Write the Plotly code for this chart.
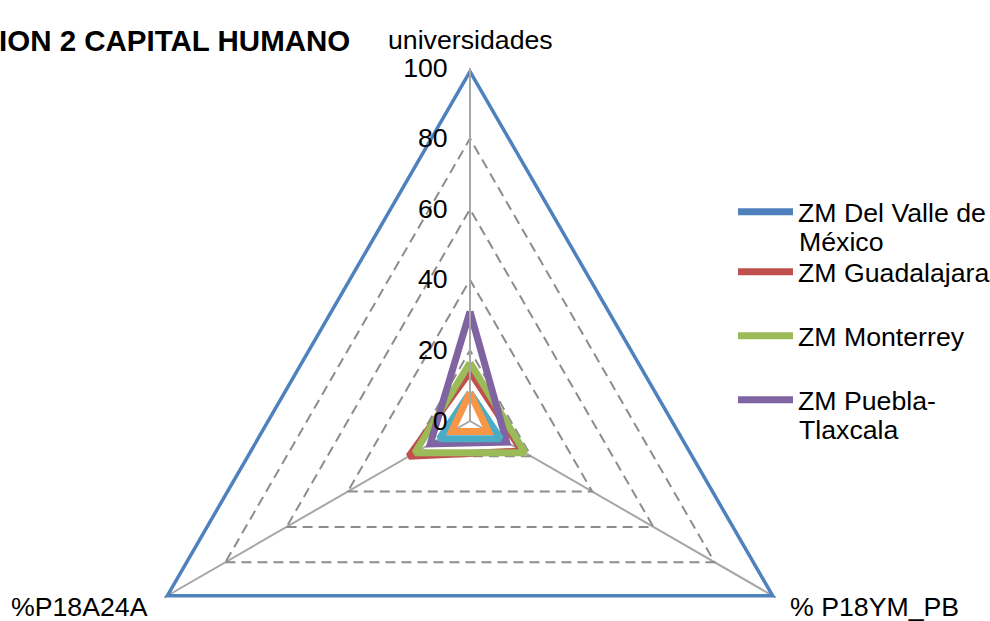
import plotly.graph_objects as go

# ---------------- data ----------------
categories = ["universidades", "% P18YM_PB", "%P18A24A"]   # top, bottom-right, bottom-left
series_names = ["ZM Del Valle de México", "ZM Guadalajara", "ZM Monterrey",
                "ZM Puebla-Tlaxcala", "Serie 5", "Serie 6"]
legend_first_lines = ["ZM Del Valle de", "ZM Guadalajara", "ZM Monterrey", "ZM Puebla-", "", ""]
legend_second_lines = ["México", "", "", "Tlaxcala", "", ""]
del_valle = [100, 100, 100]
guadalajara = [14, 17, 20]
monterrey = [16.5, 18, 18]
puebla = [31, 12, 13]
serie5 = [8, 10, 10]
serie6 = [8, 6, 6]
radial_ticks = [0, 20, 40, 60, 80, 100]
title_text = "ION 2 CAPITAL HUMANO"

all_values = [del_valle, guadalajara, monterrey, puebla, serie5, serie6]
colors = ["#4F81BD", "#C0504D", "#9BBB59", "#8064A2", "#4BACC6", "#F79646"]

# ---------------- layout helpers ----------------
W, H = 990, 780
FONT = "Liberation Sans, Arial, sans-serif"
FS = 26.7

def py(y_px):
    return (H - y_px) / H

def px(x_px):
    return x_px / W

cx, cy, R = 470, 421, 353

fig = go.Figure()
legend_ids = ["legend", "legend2", "legend3", "legend4", None, None]
for name, lab, vals, col, lid in zip(series_names, legend_first_lines, all_values, colors, legend_ids):
    kw = dict(legend=lid, showlegend=True) if lid else dict(showlegend=False)
    fig.add_trace(go.Scatterpolar(
        r=vals + vals[:1],
        theta=categories + categories[:1],
        mode="lines",
        name=lab if lab else name,
        line=dict(color=col, width=7),
        hovertext=name,
        **kw,
    ))

legend_line_y = [212, 272, 336, 400]
legend_common = dict(
    x=px(733), xanchor="left", yanchor="top",
    font=dict(family=FONT, size=FS, color="#000000"),
    bgcolor="rgba(0,0,0,0)", borderwidth=0, valign="top", itemwidth=55,
)
legends = {}
for lid, ly in zip(["legend", "legend2", "legend3", "legend4"], legend_line_y):
    legends[lid] = dict(legend_common, y=py(ly - 24))

annotations = [
    dict(text=categories[0], x=px(cx), y=py(40), xref="paper", yref="paper",
         xanchor="center", yanchor="middle", showarrow=False,
         font=dict(family=FONT, size=FS, color="#000000")),
    dict(text=categories[2], x=px(9), y=py(607), xref="paper", yref="paper",
         xanchor="left", yanchor="middle", showarrow=False,
         font=dict(family=FONT, size=FS, color="#000000")),
    dict(text=categories[1], x=px(788), y=py(607), xref="paper", yref="paper",
         xanchor="left", yanchor="middle", showarrow=False,
         font=dict(family=FONT, size=FS, color="#000000")),
    dict(text="<b>" + title_text + "</b>", x=px(-3), y=py(40), xref="paper", yref="paper",
         xanchor="left", yanchor="middle", showarrow=False,
         font=dict(family=FONT, size=29.5, color="#000000")),
]
# continuation lines of the wrapped legend labels (Excel wraps them at ~30 px spacing)
for txt, ly in zip(legend_second_lines, legend_line_y + [0, 0]):
    if txt:
        annotations.append(dict(
            text=txt, x=px(797), y=py(ly + 30), xref="paper", yref="paper",
            xanchor="left", yanchor="middle", showarrow=False,
            font=dict(family=FONT, size=FS, color="#000000")))

fig.update_layout(
    width=W, height=H,
    margin=dict(l=0, r=0, t=0, b=0, autoexpand=False),
    paper_bgcolor="white",
    font=dict(family=FONT, size=FS, color="#000000"),
    polar=dict(
        domain=dict(x=[px(cx - R), px(cx + R)], y=[py(cy + R), py(cy - R)]),
        bgcolor="white",
        gridshape="linear",
        angularaxis=dict(
            type="category",
            direction="clockwise",
            rotation=90,
            showticklabels=False,
            ticks="",
            showline=False,
            showgrid=True,
            gridcolor="#A6A6A6",
            gridwidth=2,
        ),
        radialaxis=dict(
            range=[0, 100],
            tickvals=radial_ticks,
            ticktext=[str(v) for v in radial_ticks],
            angle=90,
            tickangle=90,
            side="counterclockwise",
            ticks="outside",
            ticklen=12,
            tickcolor="rgba(0,0,0,0)",
            showline=True,
            linecolor="#A6A6A6",
            linewidth=2,
            showgrid=True,
            gridcolor="#8C8C8C",
            gridwidth=2,
            griddash="10px,6px",
            tickfont=dict(family=FONT, size=FS, color="#000000"),
        ),
    ),
    annotations=annotations,
    **legends,
)

fig.write_html(
    "out.html",
    config={"displayModeBar": False},
    post_script="document.body.style.margin='0';document.body.style.overflow='hidden';",
)
